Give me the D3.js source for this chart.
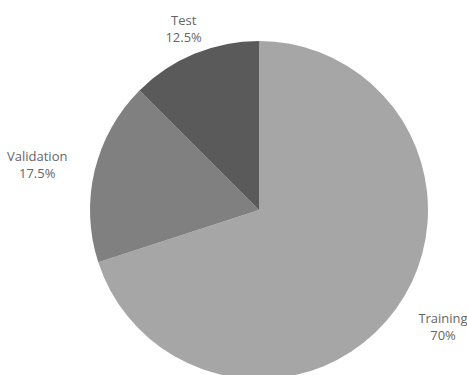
<!DOCTYPE html>
<html>
<head>
<meta charset="utf-8">
<script src="https://cdn.jsdelivr.net/npm/d3@7"></script>
<style>
  html, body { margin: 0; padding: 0; background: #fff; }
  svg { display: block; }
  text { font-family: "Open Sans", sans-serif; font-size: 13px; fill: #666; }
</style>
</head>
<body>
<svg id="chart" width="467" height="375"></svg>
<script>
// Dataset split shares (percent)
const categories = ["Training", "Validation", "Test"];
const values = [70, 17.5, 12.5];
const valueLabels = ["70%", "17.5%", "12.5%"];
const colors = ["#a6a6a6", "#808080", "#5a5a5a"];

const svg = d3.select("#chart");
const cx = 259, cy = 210, radius = 169, labelRadius = 197;

const data = categories.map((c, i) => ({ name: c, value: values[i], label: valueLabels[i], color: colors[i] }));

const pie = d3.pie().value(d => d.value).sort(null);
const arc = d3.arc().innerRadius(0).outerRadius(radius);
const labelArc = d3.arc().innerRadius(labelRadius).outerRadius(labelRadius);

const g = svg.append("g").attr("transform", `translate(${cx},${cy})`);
const arcs = pie(data);

g.selectAll("path.slice")
  .data(arcs)
  .join("path")
  .attr("class", "slice")
  .attr("d", arc)
  .attr("fill", d => d.data.color);

// Two-line labels: lines centred on each other, block anchored by side of the pie
const labels = g.selectAll("text.label")
  .data(arcs)
  .join("text")
  .attr("class", "label")
  .attr("text-anchor", "middle");

labels.append("tspan").attr("class", "l1").attr("x", 0).attr("y", -3).text(d => d.data.name);
labels.append("tspan").attr("class", "l2").attr("x", 0).attr("y", 14).text(d => d.data.label);

labels.each(function(d) {
  const t = d3.select(this);
  const w = Math.max(
    t.select(".l1").node().getComputedTextLength(),
    t.select(".l2").node().getComputedTextLength()
  );
  const [x, y] = labelArc.centroid(d);
  const mid = (d.startAngle + d.endAngle) / 2;
  const s = Math.sin(mid);
  let shift = 0;
  if (Math.abs(s) >= 0.5) shift = s > 0 ? w / 2 : -w / 2;
  t.attr("transform", `translate(${x + shift},${y})`);
});
</script>
</body>
</html>
